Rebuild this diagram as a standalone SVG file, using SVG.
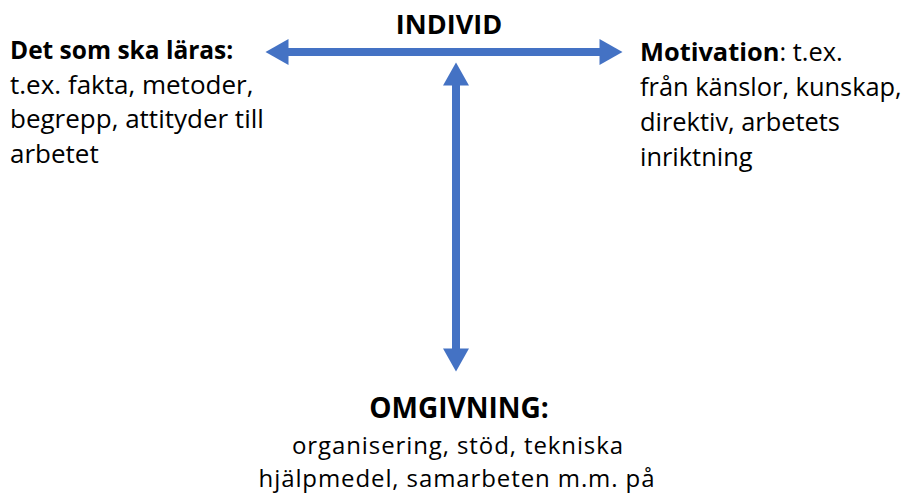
<svg xmlns="http://www.w3.org/2000/svg" width="905" height="494" viewBox="0 0 905 494">
<style>
text{font-family:"Open Sans","Noto Sans","DejaVu Sans",sans-serif;fill:#000}
.b{font-weight:bold}
.t{font-size:26px}
.r{font-size:25.4px}
.s{font-size:24px;letter-spacing:0.9px}
.h{font-size:27px;font-weight:bold}
.c{stroke:#4472C4;stroke-width:8;fill:none}
</style>
<defs>
<marker id="ah" markerUnits="userSpaceOnUse" markerWidth="24" markerHeight="26" viewBox="0 0 23 26" refX="0.5" refY="13" orient="auto-start-reverse">
<path d="M0,0 L23,13 L0,26 Z" fill="#4472C4"/>
</marker>
</defs>
<g id="connectors">
<path class="c" d="M288,52 L600,52" marker-start="url(#ah)" marker-end="url(#ah)"/>
<path class="c" d="M456,85 L456,349" marker-start="url(#ah)" marker-end="url(#ah)"/>
</g>
<g id="individ"><text class="h" x="449" y="34" text-anchor="middle">INDIVID</text></g>
<g id="larande">
<text class="t" x="10" y="59"><tspan class="b" style="font-size:24.5px">Det som ska läras:</tspan></text>
<text class="t" x="10" y="94">t.ex. fakta, metoder,</text>
<text class="t" x="10" y="128">begrepp, attityder till</text>
<text class="t" x="10" y="163">arbetet</text>
</g>
<g id="motivation">
<text class="r" x="640" y="61"><tspan class="b">Motivation</tspan>: t.ex.</text>
<text class="r" x="640" y="96">från känslor, kunskap,</text>
<text class="r" x="640" y="131">direktiv, arbetets</text>
<text class="r" x="640" y="166">inriktning</text>
</g>
<g id="omgivning">
<text class="h" x="459" y="418" text-anchor="middle" style="font-size:28px">OMGIVNING:</text>
<text class="s" x="458" y="454" text-anchor="middle">organisering, stöd, tekniska</text>
<text class="s" x="457" y="487" text-anchor="middle">hjälpmedel, samarbeten m.m. på</text>
</g>
</svg>
